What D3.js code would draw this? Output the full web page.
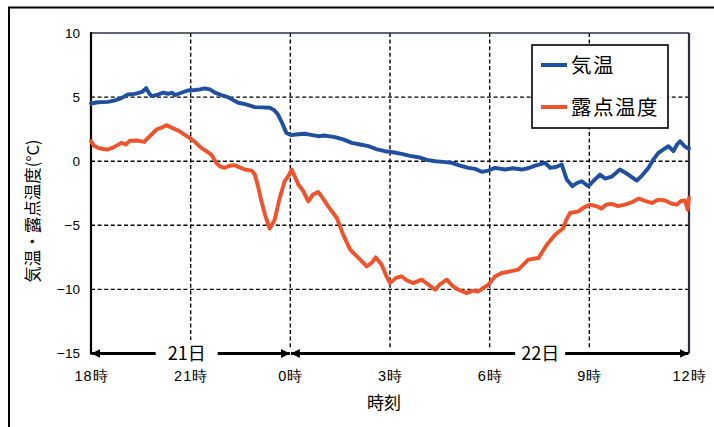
<!DOCTYPE html>
<html lang="ja">
<head>
<meta charset="utf-8">
<script src="https://cdn.jsdelivr.net/npm/d3@7"></script>
<style>
  html, body { margin: 0; padding: 0; background: #fff; }
  svg { display: block; font-family: "Noto Sans CJK JP", "Noto Sans", sans-serif; }
</style>
</head>
<body>
<svg id="chart" width="714" height="427"></svg>
<script>
// Hours elapsed since 18:00 on the 21st, with the readings at each time.
const tempHours = [0,0.21,0.51,0.72,0.9,1.11,1.32,1.54,1.66,1.75,1.82,2.02,2.17,2.32,2.44,2.52,2.68,2.92,3.13,3.28,3.42,3.58,3.73,3.92,4.12,4.43,4.64,4.93,5.15,5.38,5.51,5.63,5.75,5.88,6.03,6.23,6.44,6.62,6.84,7.04,7.34,7.59,7.85,8.1,8.35,8.58,8.85,9.09,9.35,9.6,9.85,10.11,10.36,10.6,10.86,11.11,11.36,11.56,11.76,11.96,12.16,12.46,12.7,12.97,13.15,13.37,13.67,13.82,14.0,14.17,14.32,14.49,14.63,14.77,14.97,15.14,15.32,15.47,15.68,15.92,16.17,16.43,16.59,16.78,16.92,17.08,17.22,17.38,17.53,17.64,17.73,17.85,17.98,18];
const tempValues = [4.5,4.6,4.63,4.75,4.9,5.2,5.25,5.4,5.7,5.3,5.08,5.2,5.35,5.26,5.35,5.16,5.3,5.52,5.55,5.6,5.68,5.6,5.35,5.16,5.0,4.56,4.45,4.22,4.2,4.17,4.0,3.64,3.0,2.21,2.03,2.1,2.14,2.05,1.95,2.0,1.88,1.7,1.43,1.3,1.17,0.95,0.78,0.7,0.57,0.42,0.31,0.1,0.0,-0.05,-0.13,-0.35,-0.52,-0.6,-0.83,-0.73,-0.52,-0.65,-0.55,-0.65,-0.55,-0.34,-0.13,-0.52,-0.45,-0.26,-1.43,-1.95,-1.7,-1.56,-1.95,-1.5,-1.04,-1.35,-1.2,-0.65,-1.04,-1.51,-1.1,-0.52,0.1,0.65,0.9,1.17,0.78,1.3,1.56,1.2,0.99,1.0];

const dewHours = [0,0.09,0.21,0.36,0.51,0.69,0.91,1.05,1.17,1.41,1.6,1.77,1.97,2.11,2.27,2.44,2.62,2.8,2.97,3.13,3.32,3.46,3.62,3.77,3.88,4.02,4.18,4.33,4.49,4.63,4.83,4.93,5.03,5.13,5.24,5.38,5.53,5.68,5.83,5.93,6.04,6.24,6.38,6.54,6.68,6.84,6.98,7.14,7.4,7.59,7.8,8.05,8.3,8.46,8.57,8.75,8.88,9.0,9.18,9.35,9.51,9.7,9.95,10.14,10.36,10.5,10.71,10.87,11.06,11.31,11.47,11.66,11.8,11.96,12.16,12.36,12.61,12.86,13.0,13.16,13.47,13.72,13.97,14.22,14.3,14.42,14.67,14.84,15.02,15.2,15.37,15.5,15.67,15.86,16.07,16.28,16.48,16.68,16.88,17.07,17.28,17.46,17.63,17.76,17.88,17.96,18];
const dewValues = [1.56,1.2,1.04,0.95,0.91,1.1,1.43,1.3,1.6,1.61,1.5,1.95,2.47,2.6,2.81,2.6,2.4,2.1,1.82,1.5,1.04,0.8,0.52,-0.13,-0.4,-0.52,-0.35,-0.31,-0.5,-0.65,-0.73,-1.04,-2.0,-3.13,-4.2,-5.26,-4.56,-2.86,-1.56,-1.2,-0.65,-1.82,-2.3,-3.13,-2.6,-2.4,-2.9,-3.52,-4.43,-5.73,-6.9,-7.55,-8.2,-7.9,-7.5,-8.07,-8.9,-9.51,-9.1,-8.98,-9.3,-9.51,-9.24,-9.6,-10.03,-9.6,-9.24,-9.7,-10.03,-10.29,-10.1,-10.16,-9.9,-9.64,-9.0,-8.72,-8.6,-8.46,-8.1,-7.68,-7.55,-6.51,-5.73,-5.21,-4.6,-4.04,-3.91,-3.6,-3.39,-3.5,-3.7,-3.4,-3.33,-3.5,-3.39,-3.2,-2.92,-3.1,-3.26,-3.0,-3.07,-3.3,-3.39,-3.1,-3.07,-3.78,-2.86];

const seriesNames = ["気温", "露点温度"];
const seriesColors = ["#1f4fa0", "#f0532b"];

const yTicks = [10, 5, 0, -5, -10, -15];
const xTickHours = [0, 3, 6, 9, 12, 15, 18];
const xTickLabels = ["18時", "21時", "0時", "3時", "6時", "9時", "12時"];
// Day spans along the time axis: [start hour, end hour, label]
const daySpans = [[0, 6, "21日"], [6, 18, "22日"]];
const dayLabelHours = [2.88, 13.52];

const yTitle = "気温・露点温度(°C)";
const xTitle = "時刻";

const svg = d3.select("#chart");
const plotL = 91, plotR = 689, plotT = 33, plotB = 353.5;

const x = d3.scaleLinear().domain([0, 18]).range([plotL, plotR]);
const y = d3.scaleLinear().domain([-15, 10]).range([plotB, plotT]);

// outer frame
svg.append("rect")
  .attr("x", 9).attr("y", 7.5).attr("width", 740).attr("height", 460)
  .attr("fill", "none").attr("stroke", "#000").attr("stroke-width", 2);

// dashed grid
const grid = svg.append("g").attr("stroke", "#000").attr("stroke-width", 1.4)
  .attr("stroke-dasharray", "4,2.6");
yTicks.filter(v => v > -15 && v < 10).forEach(v => {
  grid.append("line").attr("x1", plotL).attr("x2", plotR)
    .attr("y1", y(v)).attr("y2", y(v));
});
xTickHours.filter(h => h > 0 && h < 18).forEach(h => {
  grid.append("line").attr("x1", x(h)).attr("x2", x(h))
    .attr("y1", plotT).attr("y2", h === 3 ? 340 : 348);
});

// plot border (top and right)
svg.append("line").attr("x1", plotL).attr("x2", plotR).attr("y1", plotT).attr("y2", plotT)
  .attr("stroke", "#2b2f36").attr("stroke-width", 1.5);
svg.append("line").attr("x1", plotR).attr("x2", plotR).attr("y1", plotT).attr("y2", plotB)
  .attr("stroke", "#2b2f36").attr("stroke-width", 2.2);

// y axis
const yAxis = d3.axisLeft(y).tickValues(yTicks).tickSize(0).tickPadding(11)
  .tickFormat(d => d < 0 ? "\u2212" + Math.abs(d) : String(d));
const yg = svg.append("g").attr("transform", `translate(${plotL},0)`).call(yAxis);
yg.select(".domain").remove();
yg.selectAll("text").attr("font-size", 13.5).attr("fill", "#000")
  .attr("font-family", "'Liberation Sans', sans-serif");
svg.append("line").attr("x1", plotL).attr("x2", plotL).attr("y1", plotT - 1).attr("y2", plotB + 1)
  .attr("stroke", "#000").attr("stroke-width", 2.2);

// x axis tick labels
const xAxis = d3.axisBottom(x).tickValues(xTickHours).tickSize(0).tickPadding(17)
  .tickFormat((d, i) => xTickLabels[i]);
const xg = svg.append("g").attr("transform", `translate(0,${plotB})`).call(xAxis);
xg.select(".domain").remove();
xg.selectAll("text").attr("font-size", 14.5).attr("letter-spacing", 1).attr("fill", "#000");

// day arrows along the bottom
const defs = svg.append("defs");
defs.append("marker").attr("id", "arrowEnd").attr("viewBox", "0 0 10 10")
  .attr("refX", 10).attr("refY", 5).attr("markerWidth", 3.2).attr("markerHeight", 3.2)
  .attr("markerUnits", "strokeWidth").attr("orient", "auto")
  .append("path").attr("d", "M0,0L10,5L0,10Z").attr("fill", "#000");
defs.append("marker").attr("id", "arrowStart").attr("viewBox", "0 0 10 10")
  .attr("refX", 0).attr("refY", 5).attr("markerWidth", 3.2).attr("markerHeight", 3.2)
  .attr("markerUnits", "strokeWidth").attr("orient", "auto")
  .append("path").attr("d", "M10,0L0,5L10,10Z").attr("fill", "#000");

daySpans.forEach((s, i) => {
  const cx = x(dayLabelHours[i]);
  const half = i === 0 ? 31 : 25;
  svg.append("line").attr("x1", x(s[0]) + 0.5).attr("x2", cx - half)
    .attr("y1", plotB).attr("y2", plotB).attr("stroke", "#000").attr("stroke-width", 2.8)
    .attr("marker-start", "url(#arrowStart)");
  svg.append("line").attr("x1", cx + half).attr("x2", x(s[1]) - 0.5)
    .attr("y1", plotB).attr("y2", plotB).attr("stroke", "#000").attr("stroke-width", 2.8)
    .attr("marker-end", "url(#arrowEnd)");
  svg.append("text").attr("x", cx).attr("y", plotB + 6.5).attr("text-anchor", "middle")
    .attr("font-size", 18).attr("fill", "#000").text(s[2]);
});

// series lines
const line = d3.line().x(d => x(d[0])).y(d => y(d[1]));
const tempData = tempHours.map((h, i) => [h, tempValues[i]]);
const dewData = dewHours.map((h, i) => [h, dewValues[i]]);
[tempData, dewData].forEach((data, i) => {
  svg.append("path").datum(data).attr("d", line).attr("fill", "none")
    .attr("stroke", seriesColors[i]).attr("stroke-width", 3.9)
    .attr("stroke-linejoin", "round").attr("stroke-linecap", "round");
});

// axis titles
svg.append("text").attr("transform", "translate(39,211) rotate(-90)")
  .attr("text-anchor", "middle").attr("font-size", 16.5).attr("fill", "#000").text(yTitle);
svg.append("text").attr("x", 384).attr("y", 409).attr("text-anchor", "middle")
  .attr("font-size", 17).attr("fill", "#000").text(xTitle);

// legend
const lg = svg.append("g");
lg.append("rect").attr("x", 532).attr("y", 45).attr("width", 136).attr("height", 83)
  .attr("fill", "#fff").attr("stroke", "#000").attr("stroke-width", 1.6);
seriesNames.forEach((name, i) => {
  const ly = 65 + i * 42;
  lg.append("line").attr("x1", 541).attr("x2", 567).attr("y1", ly).attr("y2", ly)
    .attr("stroke", seriesColors[i]).attr("stroke-width", 4);
  lg.append("text").attr("x", 571).attr("y", ly + 8).attr("font-size", 20.5)
    .attr("letter-spacing", 1.5).attr("fill", "#000").text(name);
});
</script>
</body>
</html>
